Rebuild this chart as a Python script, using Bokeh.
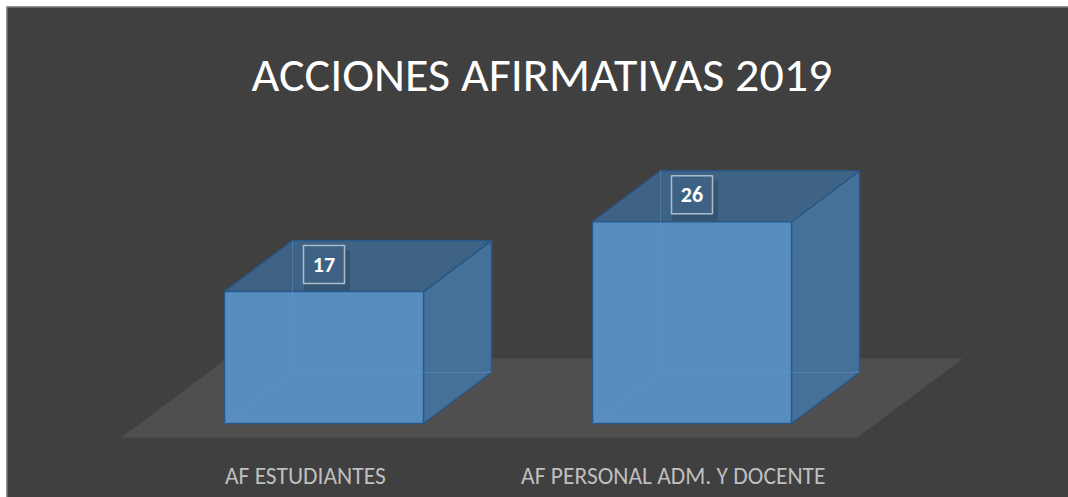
from bokeh.plotting import figure
from bokeh.models import Range1d, Span
from bokeh.embed import file_html
from bokeh.resources import INLINE
from bokeh.core.properties import value

# ---- data ----
categories = ["AF ESTUDIANTES", "AF PERSONAL ADM. Y DOCENTE"]
values = [17, 26]
title_text = "ACCIONES AFIRMATIVAS 2019"

# ---- layout constants (pixels) ----
W, H = 1068, 497
ML, MT = 6, 6       # white margin left/top
FW, FH = W - ML, H - MT
PX = 7.76           # pixels per value unit
XPX = 368           # pixels per category step
ZERO_Y = 74         # zero line, pixels from bottom
X0 = 323.5 - ML     # first category centre, pixels from frame left
DX = 68 / XPX       # depth offset in x (category units)
DY = 51 / PX        # depth offset in y (value units)
HW = 0.2704         # half bar width (category units)
FLOOR_Z = (-0.275, 1.275)

FONT = "Carlito, Lato, Open Sans, sans-serif"


def proj(x, v, z):
    return x + z * DX, v + z * DY


xr = Range1d(-X0 / XPX, (FW - X0) / XPX)
yr = Range1d(-ZERO_Y / PX, (FH - ZERO_Y) / PX)
p = figure(width=W, height=H, x_range=xr, y_range=yr,
           output_backend="svg", toolbar_location=None,
           min_border_left=ML, min_border_top=MT, min_border_right=0, min_border_bottom=0)
p.axis.visible = False
p.grid.visible = False
p.background_fill_color = "#404040"
p.border_fill_color = "white"
p.outline_line_color = None
p.add_layout(Span(location=xr.start, dimension="height", line_color="#8c8c8c", line_width=2))
p.add_layout(Span(location=yr.end, dimension="width", line_color="#8c8c8c", line_width=2))

# floor
n = len(categories)
corners = [(-0.5, FLOOR_Z[0]), (n - 0.5, FLOOR_Z[0]), (n - 0.5, FLOOR_Z[1]), (-0.5, FLOOR_Z[1])]
fx, fy = zip(*[proj(cx, 0, cz) for cx, cz in corners])
p.patch(list(fx), list(fy), fill_color="#504f50", line_color=None)

FRONT = "#588dc0"
TOP = "#3e6384"
SIDE = "#457098"
EDGE = "#285888"

for i, v in enumerate(values):
    l, r = i - HW, i + HW
    # right face
    pts = [proj(r, 0, 0), proj(r, 0, 1), proj(r, v, 1), proj(r, v, 0)]
    p.patch([q[0] for q in pts], [q[1] for q in pts], fill_color=SIDE, line_color=EDGE, line_width=1.5)
    # top face
    pts = [proj(l, v, 0), proj(r, v, 0), proj(r, v, 1), proj(l, v, 1)]
    p.patch([q[0] for q in pts], [q[1] for q in pts], fill_color=TOP, line_color=EDGE, line_width=1.5)
    # front face
    pts = [proj(l, 0, 0), proj(r, 0, 0), proj(r, v, 0), proj(l, v, 0)]
    p.patch([q[0] for q in pts], [q[1] for q in pts], fill_color=FRONT, line_color=EDGE, line_width=1.5)
    # hidden back edges seen through the translucent face
    a = proj(l, 0, 0); b = proj(l, 0, 1); c = proj(r, 0, 1); d = proj(l, v, 1)
    p.multi_line([[a[0], b[0]], [b[0], c[0]], [b[0], d[0]]],
                 [[a[1], b[1]], [b[1], c[1]], [b[1], d[1]]],
                 line_color="#5f97cf", line_alpha=0.45, line_width=1)

# data labels
lab_x = list(range(n))
lab_y = [v + 27 / PX for v in values]
p.rect(x=[x + 3 / XPX for x in lab_x], y=[y - 6 / PX for y in lab_y], width=46, height=40,
       width_units="screen", height_units="screen",
       fill_color="#1e3347", fill_alpha=0.3, line_color=None)
p.rect(x=lab_x, y=lab_y, width=41, height=38, width_units="screen", height_units="screen",
       fill_color="#3d6283", line_color="#aebdcc", line_width=1.5)
p.text(x=lab_x, y=lab_y, text=[str(v) for v in values],
       text_align="center", text_baseline="middle", text_color="white",
       text_font=value(FONT), text_font_style="bold", text_font_size="22px")

# category labels
cx = [i + FLOOR_Z[0] * DX for i in range(n)]
cy = [(22 - ZERO_Y) / PX] * n
p.text(x=cx, y=cy, text=categories, text_align="center", text_baseline="alphabetic",
       text_color="#bfbfbf", text_font=value(FONT), text_font_size="23.5px")

# title
p.text(x=[(541.5 - 323.5) / XPX], y=[(H - 74 - ZERO_Y) / PX], text=[title_text],
       text_align="center", text_baseline="alphabetic", text_color="white",
       text_font=value(FONT), text_font_size="48px")

open("out.html", "w").write(file_html(p, INLINE))
